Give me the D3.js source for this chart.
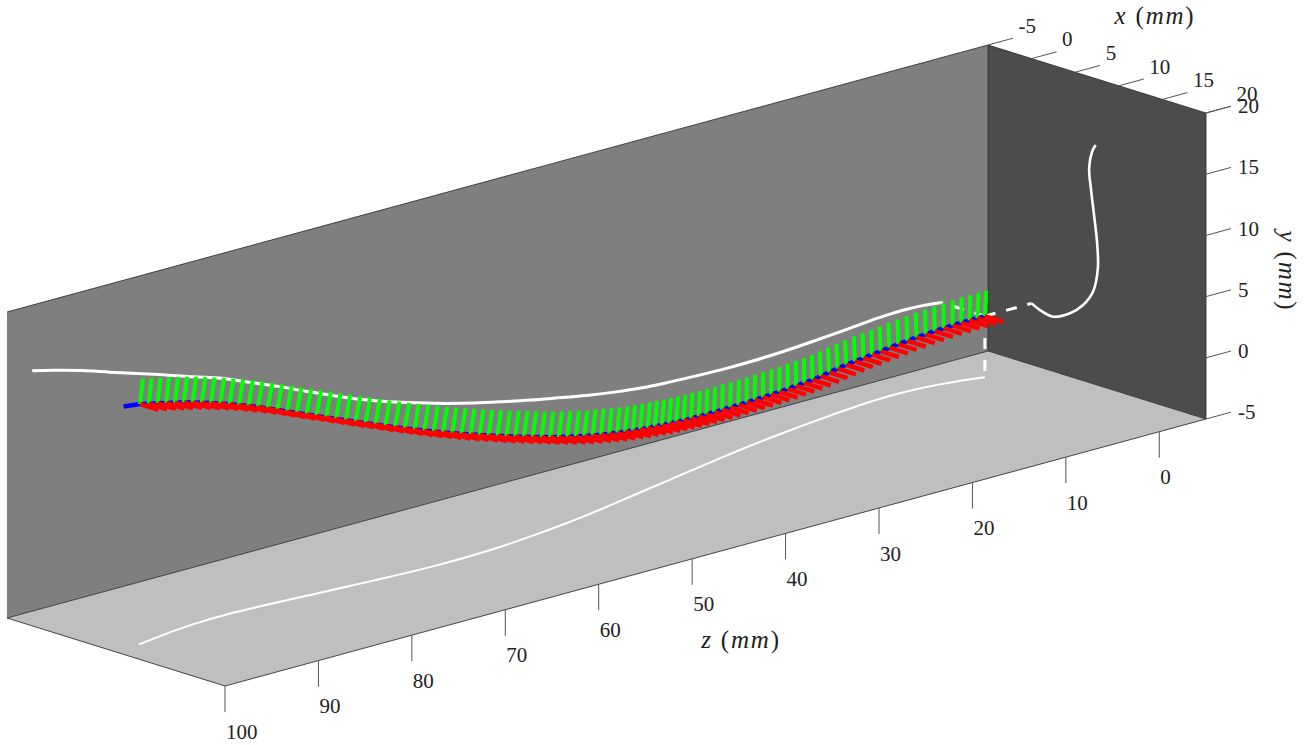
<!DOCTYPE html>
<html>
<head>
<meta charset="utf-8">
<script src="https://cdn.jsdelivr.net/npm/d3@7"></script>
<style>
html,body{margin:0;padding:0;background:#fff;overflow:hidden}
svg{display:block}
text{font-family:"Liberation Serif",serif;fill:#222}
</style>
</head>
<body>
<svg id="chart" width="1314" height="745"></svg>
<script>
// ---- data (millimetres) ----
const xTicks = [-5, 0, 5, 10, 15, 20];
const yTicks = [-5, 0, 5, 10, 15, 20];
const zTicks = [0, 10, 20, 30, 40, 50, 60, 70, 80, 90, 100];

// centre line: one sample per millimetre of z
const centerZ = [0,1,2,3,4,5,6,7,8,9,10,11,12,13,14,15,16,17,18,19,20,21,22,23,24,25,26,27,28,29,30,31,32,33,34,35,36,37,38,39,40,41,42,43,44,45,46,47,48,49,50,51,52,53,54,55,56,57,58,59,60,61,62,63,64,65,66,67,68,69,70,71,72,73,74,75,76,77,78,79,80,81,82,83,84,85,86,87,88,89,90,91,92,93,94,95,96,97];
const centerX = [0,.2,.38,.5,.59,.63,.67,.7,.72,.75,.79,.84,.9,.98,1.06,1.14,1.22,1.32,1.43,1.54,1.66,1.78,1.9,2.02,2.14,2.27,2.4,2.53,2.66,2.8,2.94,3.08,3.24,3.41,3.6,3.8,4.02,4.25,4.5,4.75,5,5.25,5.48,5.7,5.88,6.05,6.2,6.34,6.46,6.57,6.66,6.75,6.84,6.92,7,7.07,7.14,7.2,7.26,7.31,7.36,7.4,7.44,7.47,7.49,7.5,7.5,7.48,7.44,7.4,7.35,7.3,7.24,7.18,7.12,7.06,7,6.95,6.9,6.85,6.8,6.75,6.71,6.67,6.64,6.62,6.6,6.59,6.59,6.6,6.62,6.65,6.7,6.75,6.82,6.9,6.97,7.05];
const centerY = [0,.08,.15,.19,.2,.19,.16,.12,.08,.02,-.04,-.11,-.18,-.23,-.28,-.33,-.38,-.46,-.54,-.62,-.68,-.7,-.71,-.72,-.72,-.71,-.69,-.67,-.64,-.61,-.57,-.53,-.48,-.41,-.33,-.24,-.13,-.01,.12,.26,.4,.55,.7,.85,1,1.16,1.32,1.49,1.66,1.84,2.03,2.23,2.44,2.66,2.89,3.13,3.37,3.61,3.85,4.1,4.35,4.61,4.87,5.13,5.4,5.67,5.95,6.23,6.51,6.8,7.1,7.4,7.71,8.02,8.33,8.64,8.94,9.26,9.58,9.9,10.21,10.53,10.85,11.18,11.5,11.79,12.07,12.34,12.61,12.86,13.09,13.33,13.55,13.75,13.95,14.15,14.34,14.53];
// the blue line runs a little past the last frame
const tailZ = [99];
const tailX = [7.3];
const tailY = [14.81];

// frame arms
const greenLength = [2.05];
const greenTilt = [0.8];
const redLength = [2.1];

// projection on the wall x = -5
const wallZ = [0,2,4,6,8,11,14,17,20,23,26,29,32,35,38,41,44,47,50,53,56,59,62,65,68,71,74,77,80,83,86,89,92,95,97.3];
const wallY = [0,.16,.22,.17,.06,-.15,-.34,-.49,-.58,-.6,-.55,-.46,-.32,-.05,.3,.73,1.17,1.66,2.18,2.77,3.44,4.15,4.95,5.88,6.87,7.9,8.85,9.8,10.55,11.33,12.06,12.8,13.55,14.2,14.63];

// projection on the floor y = -5
const floorZ = [0,2,4,6,8,10,12,15,18,21,24,27,30,33,36,39,42,45,48,51,54,57,60,63,66,69,72,75,78,81,84,87,90,93,95,97.3];
const floorX = [0,-.62,-1.05,-1.3,-1.42,-1.4,-1.25,-.88,-.45,.02,.53,1.1,1.74,2.42,3.1,3.78,4.46,5.14,5.78,6.34,6.8,7.2,7.48,7.62,7.62,7.48,7.26,7,6.72,6.44,6.2,6.05,6.14,6.48,6.82,7.21];

// projection on the wall z = -5
const sideX = [0,.96,2.45,4.4,5.9,7.04,7.6,7.5,7.16,6.8,6.6,6.93,7.35];
const sideY = [0,-.33,-.54,.17,1.18,2.52,4.56,6.71,8.82,10.9,12.5,13.93,14.57];

// ---- scales ----
const originX = 988, originY = 351;
const xToPx = d3.scaleLinear().domain([-5, 20]).range([0, 218]);
const xToPy = d3.scaleLinear().domain([-5, 20]).range([0, 68]);
const yToPy = d3.scaleLinear().domain([-5, 20]).range([0, -306]);
const zToPx = d3.scaleLinear().domain([-5, 100]).range([0, -981]);
const zToPy = d3.scaleLinear().domain([-5, 100]).range([0, 267]);
const px = (x, y, z) => originX + xToPx(x) + zToPx(z);
const py = (x, y, z) => originY + xToPy(x) + yToPy(y) + zToPy(z);
const P = (x, y, z) => [px(x, y, z), py(x, y, z)];

const svg = d3.select("#chart");
const poly = pts => "M" + pts.map(p => p.join(",")).join("L") + "Z";
const seg = (a, b) => "M" + a.join(",") + "L" + b.join(",");
const smooth = d3.line().curve(d3.curveCatmullRom.alpha(0.5));

// ---- walls ----
const X0 = -5, X1 = 20, Y0 = -5, Y1 = 20, Z0 = -5, Z1 = 100;
const edge = "#333";
svg.append("path").attr("d", poly([P(X0,Y0,Z0), P(X0,Y1,Z0), P(X0,Y1,Z1), P(X0,Y0,Z1)])).attr("fill", "#7f7f7f");
svg.append("path").attr("d", poly([P(X0,Y0,Z0), P(X0,Y1,Z0), P(X1,Y1,Z0), P(X1,Y0,Z0)])).attr("fill", "#4c4c4c");
svg.append("path").attr("d", poly([P(X0,Y0,Z0), P(X1,Y0,Z0), P(X1,Y0,Z1), P(X0,Y0,Z1)])).attr("fill", "#bfbfbf");
[[P(X0,Y1,Z1),P(X0,Y1,Z0)],[P(X0,Y1,Z0),P(X1,Y1,Z0)],[P(X0,Y1,Z0),P(X0,Y0,Z0)],
 [P(X1,Y1,Z0),P(X1,Y0,Z0)],[P(X0,Y0,Z0),P(X0,Y0,Z1)],[P(X0,Y0,Z0),P(X1,Y0,Z0)],
 [P(X1,Y0,Z0),P(X1,Y0,Z1)],[P(X1,Y0,Z1),P(X0,Y0,Z1)]].forEach(([a,b]) => {
  svg.append("path").attr("d", seg(a,b)).attr("stroke", edge).attr("stroke-width", 0.9).attr("fill","none");
});

// ---- ticks and labels ----
const tickColor = "#555";
const label = (x, y, s, anchor) => svg.append("text").attr("x", x).attr("y", y)
  .attr("font-size", 21).attr("text-anchor", anchor || "start").attr("dominant-baseline", "central").text(s);
xTicks.forEach(v => {
  const a = P(v, Y1, Z0), b = [a[0] + 25, a[1] - 6.8];
  svg.append("path").attr("d", seg(a,b)).attr("stroke", tickColor).attr("stroke-width", 1);
  label(b[0] + 5.5, b[1] - 12.5, String(v));
});
yTicks.forEach(v => {
  const a = P(X1, v, Z0), b = [a[0] + 25, a[1] - 6.8];
  svg.append("path").attr("d", seg(a,b)).attr("stroke", tickColor).attr("stroke-width", 1);
  label(b[0] + 7, b[1], String(v));
});
zTicks.forEach(v => {
  const a = P(X1, Y0, v), b = [a[0], a[1] + 26];
  svg.append("path").attr("d", seg(a,b)).attr("stroke", tickColor).attr("stroke-width", 1);
  label(a[0] + 1, a[1] + 45.5, String(v));
});

// axis titles
function title(x, y, name, rotate) {
  const t = svg.append("text").attr("font-size", 25).attr("letter-spacing", 1.8).attr("text-anchor", "middle")
    .attr("dominant-baseline", "central").attr("xml:space", "preserve")
    .attr("transform", `translate(${x},${y})` + (rotate ? ` rotate(${rotate})` : ""));
  t.append("tspan").attr("font-style", "italic").text(name);
  t.append("tspan").text(" (");
  t.append("tspan").attr("font-style", "italic").text("mm");
  t.append("tspan").text(")");
}
title(1155, 15, "x", 0);
title(1288, 271, "y", 90);
title(741, 639, "z", 0);

// ---- projections ----
const white = (pts, w) => svg.append("path").attr("d", smooth(pts)).attr("fill", "none")
  .attr("stroke", "#fff").attr("stroke-width", w);
white(wallZ.map((z, i) => P(X0, wallY[i], z)), 3);
white(floorZ.map((z, i) => P(floorX[i], Y0, z)), 2);
white(sideX.map((x, i) => P(x, sideY[i], Z0)), 2.6);

// dashed leaders from the start of the centre line to each projection
const start = P(centerX[0], centerY[0], centerZ[0]);
[P(X0, centerY[0], centerZ[0]), P(centerX[0], Y0, centerZ[0]), P(centerX[0], centerY[0], Z0)].forEach(end => {
  svg.append("path").attr("d", seg(start, end)).attr("stroke", "#fff").attr("stroke-width", 3)
    .attr("stroke-dasharray", "11 11").attr("fill", "none");
});

// ---- centre line and frames ----
const centerPts = centerZ.map((z, i) => P(centerX[i], centerY[i], z))
  .concat(tailZ.map((z, i) => P(tailX[i], tailY[i], z)));
svg.append("path").attr("d", d3.line()(centerPts)).attr("fill", "none").attr("stroke", "#0000ff").attr("stroke-width", 4.5);

const slope = (arr, i) => {
  const a = Math.max(0, i - 1), b = Math.min(arr.length - 1, i + 1);
  return (arr[b] - arr[a]) / (centerZ[b] - centerZ[a]);
};
const gGreen = svg.append("g"), gRed = svg.append("g");
for (let i = centerZ.length - 1; i >= 0; i--) {
  const x = centerX[i], y = centerY[i], z = centerZ[i];
  const s = slope(centerY, i) * greenTilt[0], n = Math.hypot(1, s), L = greenLength[0];
  gGreen.append("path").attr("d", seg(P(x, y, z), P(x, y + L / n, z - L * s / n)))
    .attr("stroke", "#00ff00").attr("stroke-width", 4);
}
for (let i = 0; i < centerZ.length; i++) {
  const x = centerX[i], y = centerY[i], z = centerZ[i];
  gRed.append("path").attr("d", seg(P(x, y, z), P(x + redLength[0], y, z)))
    .attr("stroke", "#ff0000").attr("stroke-width", 4.5);
}
</script>
</body>
</html>
